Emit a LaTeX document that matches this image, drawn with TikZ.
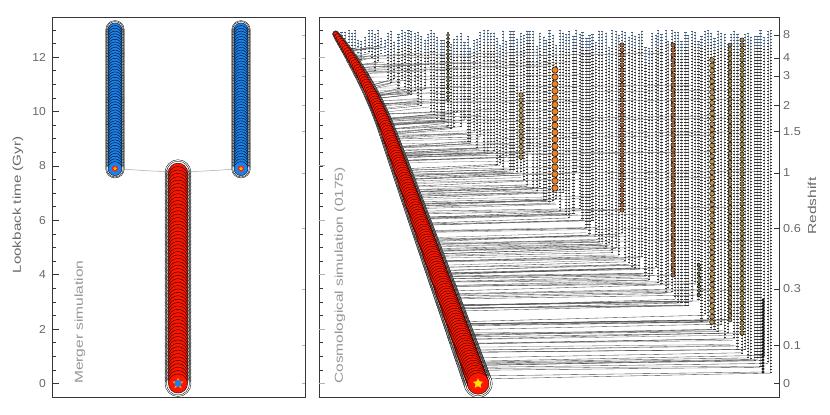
\documentclass[tikz,border=0pt]{standalone}
\usepackage{fontspec}
\setmainfont{Liberation Sans}
\usepackage{graphicx}
\usetikzlibrary{shapes.geometric}
\definecolor{bblue}{RGB}{28,128,232}
\definecolor{rred}{RGB}{252,22,0}
\definecolor{oorange}{RGB}{255,176,0}
\definecolor{framec}{RGB}{55,55,55}
\definecolor{labc}{RGB}{105,105,105}
\definecolor{labc2}{RGB}{150,150,150}
\definecolor{steelc}{RGB}{60,95,135}
\definecolor{tanc}{RGB}{190,150,90}
\definecolor{orangec}{RGB}{235,130,40}
\definecolor{brownc}{RGB}{175,105,60}
\definecolor{olivec}{RGB}{160,140,80}
\definecolor{greenc}{RGB}{130,155,95}
\definecolor{darkc}{RGB}{70,70,70}
\tikzset{
  ring/.style={fill=white,draw=black,line width=0.35},
  redm/.style={fill=rred,draw=black,line width=0.35},
  bluem/.style={fill=bblue,draw=black,line width=0.35},
  frame/.style={draw=framec,line width=0.8},
  tickm/.style={draw=framec,line width=0.6},
  tickg/.style={draw=gray!60,line width=0.9},
  linec/.style={draw=black!75,line width=0.35},
  ticklab/.style={text=labc,inner sep=0,font=\fontsize{11.5}{13}\selectfont},
  biglab/.style={inner sep=0,font=\fontsize{11.5}{13}\selectfont},
  starm/.style={star,star points=5,star point ratio=2.3,inner sep=0}
}
\begin{document}
\begin{tikzpicture}[x=1pt,y=-1pt,
  declare function={xm(\q)=478-0.36*(383-\q)-17*(max(0,383-\q-250)/100)^2;}]
\useasboundingbox (0,0) rectangle (830,415);
\fill[white] (0,0) rectangle (830,415);

% ================= LEFT PANEL =================
\coordinate (lb) at (115,168.6);
\coordinate (rb) at (241,168.6);
\coordinate (ct) at (178,171.3);
\draw[gray!70,line width=0.5] (lb) .. controls (140,170) and (155,172) .. (ct);
\draw[gray!70,line width=0.5] (ct) .. controls (200,172) and (220,170) .. (rb);

% blue progenitor columns (three passes)
\foreach \bx in {115,241}{
  \foreach \k in {0,...,51}{
    \pgfmathsetmacro\yy{383.5-27.2*(13.0-0.1*\k)}
    \filldraw[ring] (\bx,\yy) circle[radius=9.3];
  }
  \foreach \k in {0,...,51}{
    \pgfmathsetmacro\yy{383.5-27.2*(13.0-0.1*\k)}
    \filldraw[ring] (\bx,\yy) circle[radius=8.3];
  }
  \foreach \k in {0,...,51}{
    \pgfmathsetmacro\yy{383.5-27.2*(13.0-0.1*\k)}
    \filldraw[bluem] (\bx,\yy) circle[radius=7];
    \draw[red!75!black,line width=0.7] ({\bx-1.6},\yy) -- ({\bx+1.6},\yy);
  }
  \fill[rred] (\bx,168.6) circle[radius=3];
}
\node[starm,fill=oorange,minimum size=5] (s1) at (lb) {};
\node[starm,fill=oorange,minimum size=5] (s2) at (rb) {};

% red remnant column (three passes)
\foreach \k in {0,...,62}{
  \pgfmathsetmacro\yy{383.5-27.2*(7.75-0.125*\k)}
  \filldraw[ring] (178,\yy) circle[radius=13];
}
\foreach \k in {0,...,62}{
  \pgfmathsetmacro\yy{383.5-27.2*(7.75-0.125*\k)}
  \filldraw[ring] (178,\yy) circle[radius=11.5];
}
\foreach \k in {0,...,62}{
  \pgfmathsetmacro\yy{383.5-27.2*(7.75-0.125*\k)}
  \filldraw[redm] (178,\yy) circle[radius=9.6];
  \fill[oorange] (178,\yy) circle[radius=1.1];
}
\node[starm,fill=oorange,minimum size=12] (s3) at (178,383.5) {};
\fill[bblue] (178,383.5) circle[radius=3.6];

% frame left
\draw[frame] (52,17) rectangle (305,397);
\foreach \t in {0,2,...,12}{
  \draw[tickm] (52,{383.5-27.2*\t}) -- ++(7,0);
}
\foreach \k in {1,...,26}{
  \draw[tickm] (52,{383.5-13.6*\k}) -- ++(3.5,0);
}
\foreach \t [count=\c] in {0,2,4,6,8,10,12}{
  \node[ticklab,anchor=east] (lt\c) at (46,{383.5-27.2*\t}) {\scalebox{1.05}[1]{\t}};
}
\node[biglab,text=labc,rotate=90] (ylab) at (18,205) {\scalebox{1.32}[1]{Lookback time (Gyr)}};
\node[biglab,text=labc2,rotate=90,anchor=west] (mlab) at (80,384) {\scalebox{1.35}[1]{Merger simulation}};

% ================= RIGHT PANEL =================
\pgfmathsetseed{4242}
\foreach \i in {0,...,131}{
  \pgfmathsetmacro\cx{338+3.3*\i+1.2*rnd}
  \pgfmathsetmacro\ct{30+22*rnd*rnd}
  \pgfmathsetmacro\env{40+0.77*(\cx-335)}
  \pgfmathsetmacro\cb{max(\ct+8,\env-70*rnd*rnd*rnd)}
  \pgfmathsetmacro\ye{\cb+2+5*rnd}
  \pgfmathsetmacro\xe{xm(\ye)}
  \pgfmathsetmacro\cbl{\ct+10+8*rnd}
  \draw[linec] (\cx,\cb) -- (\xe,\ye);
  \draw[gray!55,line width=0.5] (\cx,\ct) -- (\cx,\cb);
  \draw[black!80,line width=2.2,dash pattern=on 0.8 off 2.2] (\cx,\ct) -- (\cx,\cb);
  \draw[steelc,line width=2.2,dash pattern=on 0.8 off 2.2] (\cx,\ct) -- (\cx,\cbl);
}
% extra merger lines inside the dense region
\foreach \i in {1,...,80}{
  \pgfmathsetmacro\px{360+410*rnd}
  \pgfmathsetmacro\env{40+0.77*(\px-335)}
  \pgfmathsetmacro\py{45+(\env-45)*rnd}
  \pgfmathsetmacro\qy{\py+2+4*rnd}
  \pgfmathsetmacro\qx{xm(\qy)}
  \draw[draw=black!55,line width=0.3] (\px,\py) -- (\qx,\qy);
}
% extra merger lines along the lower edge
\foreach \i in {1,...,60}{
  \pgfmathsetmacro\px{400+370*rnd}
  \pgfmathsetmacro\py{40+0.77*(\px-335)-12*rnd}
  \pgfmathsetmacro\qy{\py+2+4*rnd}
  \pgfmathsetmacro\qx{xm(\qy)}
  \draw[draw=black!65,line width=0.3] (\px,\py) -- (\qx,\qy);
}
% prominent satellite tracks
\foreach \sx/\sa/\sb/\sr/\sc/\sn in {555/70/188/3.2/orangec/17,521/95/157/2.2/tanc/12,622/45/210/2.2/brownc/33,673/45/275/2.2/brownc/46,712/60/322/2.4/tanc/49,730/45/320/2.0/olivec/61,742/40/333/2.2/olivec/59,699/265/295/1.8/greenc/7,448/35/100/1.6/olivec/17,763/300/372/1.2/darkc/24}{
  \pgfmathsetmacro\sy{\sb+4}
  \pgfmathsetmacro\sxe{xm(\sy)}
  \pgfmathsetmacro\sd{(\sb-\sa)/\sn}
  \draw[linec] (\sx,\sb) -- (\sxe,\sy);
  \foreach \j in {0,...,\sn}{
    \pgfmathsetmacro\yy{\sa+\j*\sd}
    \filldraw[fill=\sc,draw=black,line width=0.45] (\sx,\yy) circle[radius=\sr];
  }
}
% main branch (three passes)
\foreach \k in {0,...,139}{
  \pgfmathsetmacro\yy{34+\k*2.514}
  \pgfmathsetmacro\xx{xm(\yy)}
  \pgfmathsetmacro\rra{1.3*(2+8.8*sqrt((\yy-33)/350))}
  \filldraw[ring] (\xx,\yy) circle[radius=\rra];
}
\foreach \k in {0,...,139}{
  \pgfmathsetmacro\yy{34+\k*2.514}
  \pgfmathsetmacro\xx{xm(\yy)}
  \pgfmathsetmacro\rrb{1.15*(2+8.8*sqrt((\yy-33)/350))}
  \filldraw[ring] (\xx,\yy) circle[radius=\rrb];
}
\foreach \k in {0,...,139}{
  \pgfmathsetmacro\yy{34+\k*2.514}
  \pgfmathsetmacro\xx{xm(\yy)}
  \pgfmathsetmacro\rr{2+8.8*sqrt((\yy-33)/350)}
  \pgfmathsetmacro\rrc{0.3*\rr}
  \filldraw[redm] (\xx,\yy) circle[radius=\rr];
  \pgfmathtruncatemacro\mm{mod(\k,9)}
  \ifnum\mm=0
    \fill[bblue] (\xx,\yy) circle[radius=\rrc];
  \else
    \fill[oorange] (\xx,\yy) circle[radius=\rrc];
  \fi
}
\node[starm,fill=yellow!85!orange,minimum size=11] (s4) at (478,383.5) {};

% frame right
\draw[frame] (319,17) rectangle (779,397);
\foreach \k in {0,...,26}{
  \draw[tickm] (319,{383.5-13.6*\k}) -- ++(4,0);
}
\foreach \t in {0,2,...,12}{
  \draw[tickg] (319,{383.5-27.2*\t}) -- ++(6,0);
}
\foreach \z/\zy [count=\c] in {8/35,4/58,3/76,2/105,1.5/131.5,1/173,0.6/228.5,0.3/289,0.1/345.5,0/383.5}{
  \draw[tickm] (779,\zy) -- ++(-5,0);
  \draw[tickg] (305,\zy) -- ++(-3,0);
  \node[ticklab,anchor=west] (zt\c) at (783,\zy) {\scalebox{1.1}[1]{\z}};
}
\node[biglab,text=labc,rotate=90] (zlab) at (812,206) {\scalebox{1.35}[1]{Redshift}};
\node[biglab,text=labc2,rotate=90,anchor=west] (clab) at (340,384) {\scalebox{1.35}[1]{Cosmological simulation (0175)}};
\end{tikzpicture}
\end{document}
